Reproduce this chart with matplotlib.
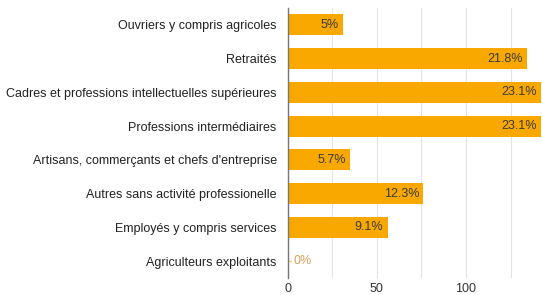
import matplotlib
matplotlib.use("Agg")
import matplotlib.pyplot as plt

# categories top -> bottom, counts, percentage labels as shown
categories = [
    "Ouvriers y compris agricoles",
    "Retraités",
    "Cadres et professions intellectuelles supérieures",
    "Professions intermédiaires",
    "Artisans, commerçants et chefs d'entreprise",
    "Autres sans activité professionelle",
    "Employés y compris services",
    "Agriculteurs exploitants",
]
counts = [31, 134, 142, 142, 35, 76, 56, 0]
pct_labels = ["5%", "21.8%", "23.1%", "23.1%", "5.7%", "12.3%", "9.1%", "0%"]
x_ticks = [0, 50, 100]
grid_ticks = [25, 75, 125]

plt.rcParams["font.family"] = ["Liberation Sans", "DejaVu Sans"]

fig = plt.figure(figsize=(5.42, 2.95), dpi=100)
ax = fig.add_axes([0.531, 0.058, 0.467, 0.915])

bar_color = "#f9a800"
pos = list(range(len(categories)))
ax.barh(pos, counts, height=0.62, color=bar_color, zorder=2)

for p, c, lab in zip(pos, counts, pct_labels):
    if c > 0:
        ax.annotate(lab, (c, p), xytext=(-3, 0), textcoords="offset points",
                    ha="right", va="center", fontsize=9, color="#3a3a3a", zorder=3)
    else:
        # tiny stub for the zero bar
        ax.plot([0, 2], [p, p], color="#f5cf80", linewidth=1, zorder=2)
        ax.annotate(lab, (c, p), xytext=(4, 0), textcoords="offset points",
                    ha="left", va="center", fontsize=9, color="#d9a25a", zorder=3)

ax.set_ylim(len(categories) - 0.5, -0.5)
ax.set_xlim(0, 142)
ax.set_yticks(pos)
ax.set_yticklabels(categories, fontsize=9, color="#222222")
ax.set_xticks(x_ticks)
ax.set_xticklabels([str(t) for t in x_ticks], fontsize=9, color="#333333")
ax.set_xticks(grid_ticks, minor=True)
ax.tick_params(axis="both", which="both", length=0)
ax.tick_params(axis="y", pad=8)
ax.tick_params(axis="x", pad=4)
ax.grid(axis="x", which="both", color="#e3e3e3", linewidth=0.8, zorder=0)

for side in ["top", "right", "bottom"]:
    ax.spines[side].set_visible(False)
ax.spines["left"].set_color("#777777")
ax.spines["left"].set_linewidth(1.0)
ax.spines["left"].set_zorder(4)

fig.savefig("out.png", dpi=100)
